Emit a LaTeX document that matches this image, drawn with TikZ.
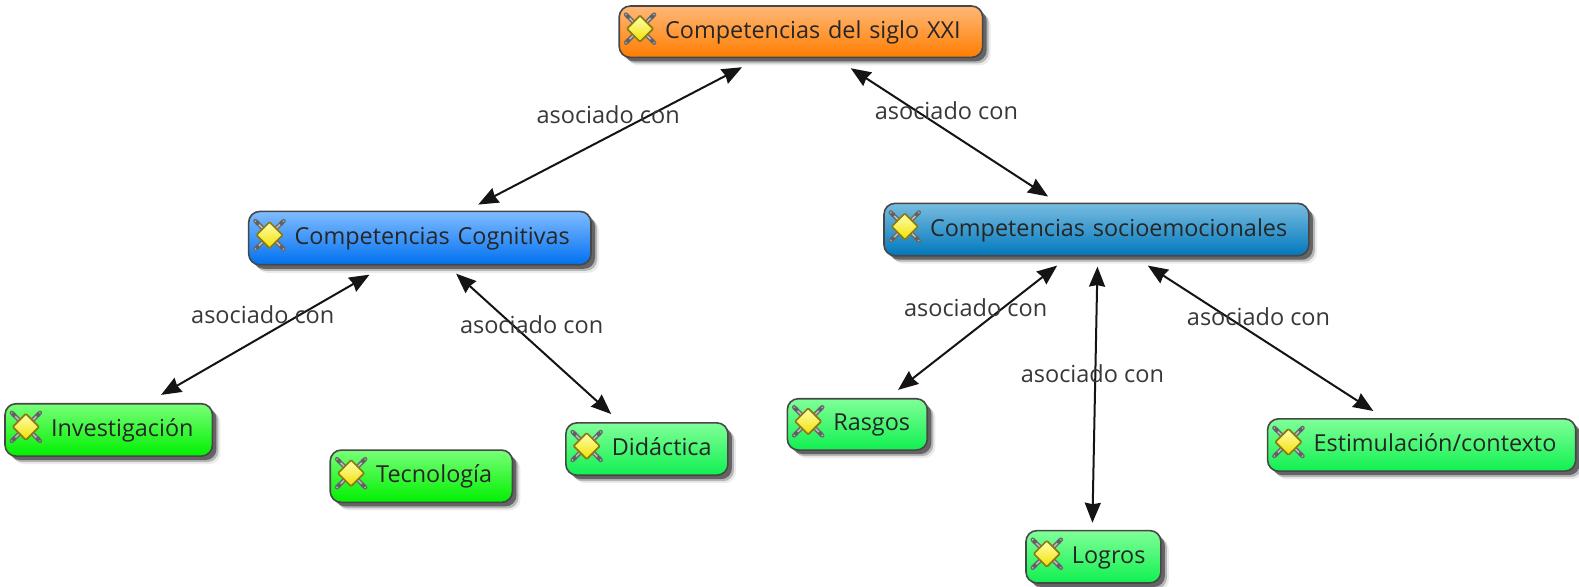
\documentclass[tikz,border=0pt]{standalone}
\usepackage{fontspec}
\setmainfont{Open Sans}
\usetikzlibrary{arrows.meta,calc,shadows}
\tikzset{
  box/.style={rectangle,rounded corners=11pt,draw=black!72,line width=1.6pt,inner sep=0pt,
    text=black!85,font=\fontsize{23.4}{26}\selectfont,align=left,
    drop shadow={shadow xshift=8pt,shadow yshift=-8pt,fill=black,opacity=.08},
    drop shadow={shadow xshift=6pt,shadow yshift=-6pt,fill=black,opacity=.22},
    drop shadow={shadow xshift=4pt,shadow yshift=-4pt,fill=black,opacity=.45}},
  orangebox/.style={box,top color=orange1,middle color=orange2,bottom color=orange3},
  bluebox/.style={box,top color=blue1,middle color=blue2,bottom color=blue3},
  tealbox/.style={box,top color=teal1,middle color=teal2,bottom color=teal3},
  greenbox/.style={box,top color=green1,middle color=green2,bottom color=green3},
  mintbox/.style={box,top color=mint1,middle color=mint2,bottom color=mint3},
  link/.style={{Stealth[inset=1.5pt,length=20pt,width=16pt]}-{Stealth[inset=1.5pt,length=20pt,width=16pt]},line width=2pt,draw=black!92},
  linklabel/.style={inner sep=0pt,text=black!78,font=\fontsize{23.5}{26}\selectfont},
  gem/.pic={
    \draw[line width=4.4pt,draw=black!58,line cap=round] (-14,-14)--(14,14) (-14,14)--(14,-14);
    \draw[line width=1.4pt,draw=black!25,line cap=round] (-14,-14)--(14,14) (-14,14)--(14,-14);
    \fill[black!62] (-12,-12) circle (2.2) (12,12) circle (2.2) (-12,12) circle (2.2) (12,-12) circle (2.2);
    \draw[line width=1.7pt,draw=gemedge,top color=gemtop,bottom color=gembot,rounded corners=1pt]
      (0,-13)--(13,0)--(0,13)--(-13,0)--cycle;
  }
}
\definecolor{orange1}{HTML}{FFB878}\definecolor{orange2}{HTML}{FF9C3E}\definecolor{orange3}{HTML}{FF7D00}
\definecolor{blue1}{HTML}{80BCFF}\definecolor{blue2}{HTML}{3C96FF}\definecolor{blue3}{HTML}{0070F0}
\definecolor{teal1}{HTML}{78BCE0}\definecolor{teal2}{HTML}{3C9CD0}\definecolor{teal3}{HTML}{0078BC}
\definecolor{green1}{HTML}{78FF78}\definecolor{green2}{HTML}{3CFF3C}\definecolor{green3}{HTML}{00F000}
\definecolor{mint1}{HTML}{80FF98}\definecolor{mint2}{HTML}{48FF78}\definecolor{mint3}{HTML}{10F050}
\definecolor{gemedge}{HTML}{8A7A10}\definecolor{gemtop}{HTML}{FFFFB0}\definecolor{gembot}{HTML}{F0E000}
% name, style, x1, y1, x2, y2, text
\newcommand{\concept}[7]{%
  \pgfmathsetmacro{\cw}{(#5-#3)*1.0068}\pgfmathsetmacro{\ch}{(#6-#4)*1.0068}%
  \node[#2,minimum width=\cw pt,minimum height=\ch pt,text width=\cw pt] (#1) at ({(#3+#5)/2},{(#4+#6)/2})
    {\hspace*{46pt}\rule[-7pt]{0pt}{27pt}#7};
  \pic at ($(#1.west)+(21.5,-3)$) {gem};
}
\begin{document}
\begin{tikzpicture}[x=1.0068pt,y=-1.0068pt]
\useasboundingbox (0,0) rectangle (1568.3,583);
\fill[white] (0,0) rectangle (1568.3,583);
\concept{top}{orangebox}{615}{6}{976}{57}{Competencias del siglo XXI}
\concept{cog}{bluebox}{247}{210}{587}{263}{Competencias Cognitivas}
\concept{soc}{tealbox}{878}{202}{1300}{254}{Competencias socioemocionales}
\concept{inv}{greenbox}{5}{401}{211}{453}{Investigación}
\concept{tec}{greenbox}{328}{447}{509}{499}{Tecnología}
\concept{did}{mintbox}{562}{420}{723}{472}{Didáctica}
\concept{ras}{mintbox}{782}{396}{921}{447}{Rasgos}
\concept{est}{mintbox}{1259}{416}{1565}{468}{Estimulación/contexto}
\concept{log}{mintbox}{1019}{527}{1153}{579}{Logros}

\draw[link] ($(top.south)+(-58.5,9)$) -- ($(cog.north)+(58,-6)$);
\draw[link] ($(top.south)+(49.5,10)$) -- ($(soc.north)+(-48,-6)$);
\draw[link] ($(cog.south)+(-50,9)$) -- ($(inv.north)+(52,-8)$);
\draw[link] ($(cog.south)+(36,8)$) -- ($(did.north)+(-35.5,-8)$);
\draw[link] ($(soc.south)+(-39,9)$) -- ($(ras.north)+(40.5,-8)$);
\draw[link] ($(soc.south)+(1,10)$) -- ($(log.north)+(-1,-7)$);
\draw[link] ($(soc.south)+(51,9)$) -- ($(est.north)+(-48,-7)$);

\node[linklabel] (l1) at (604,114) {asociado con};
\node[linklabel] (l2) at (940,110) {asociado con};
\node[linklabel] (l3) at (261,313) {asociado con};
\node[linklabel] (l4) at (528,322) {asociado con};
\node[linklabel] (l5) at (969,306) {asociado con};
\node[linklabel] (l6) at (1085,371) {asociado con};
\node[linklabel] (l7) at (1250,315) {asociado con};
\end{tikzpicture}
\end{document}
